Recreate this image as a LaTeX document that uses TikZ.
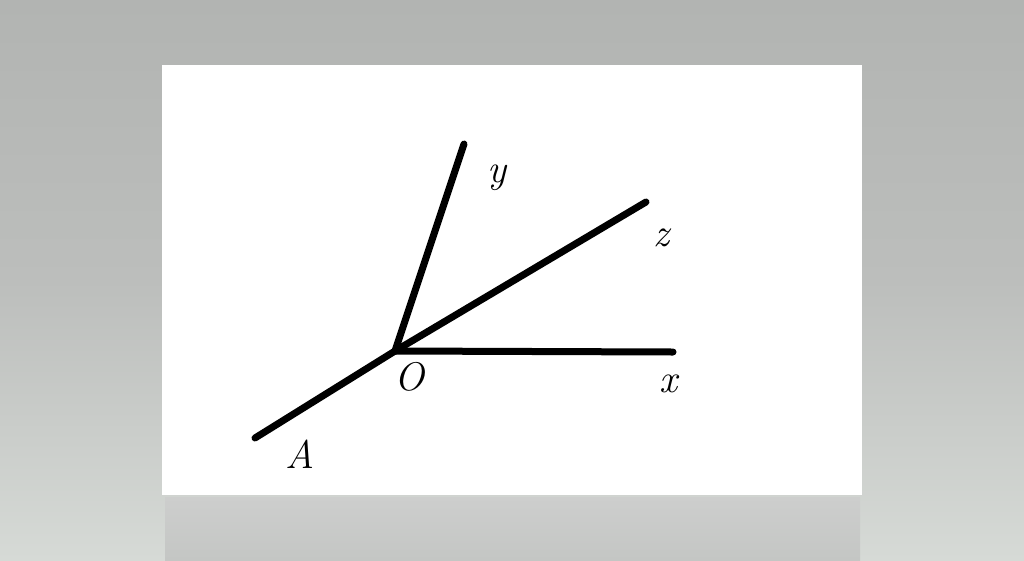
\documentclass[tikz,border=0pt]{standalone}
\definecolor{bgtop}{RGB}{178,180,178}
\definecolor{bgmid}{RGB}{188,190,188}
\definecolor{bgbot}{RGB}{214,218,214}
\definecolor{refltop}{RGB}{205,206,205}
\definecolor{reflbot}{RGB}{196,198,196}
\begin{document}
\begin{tikzpicture}[x=1pt,y=-1pt,
  axis/.style={line width=7pt,line cap=round,black},
  lab/.style={font=\fontsize{40}{46}\selectfont\itshape,inner sep=0pt}]
\useasboundingbox (0,0) rectangle (1024,560);
\shade[top color=bgtop,bottom color=bgbot,middle color=bgmid] (0,0) rectangle (1024,560);
\shade[top color=refltop,bottom color=reflbot] (165,497) rectangle (860,560);
\fill[white] (162,65) rectangle (862,495);
\coordinate (O) at (395,351);
\coordinate (Y) at (464,144);
\coordinate (Z) at (646,202);
\coordinate (X) at (673,352);
\coordinate (A) at (255,438);
\draw[axis] (O) -- (Y);
\draw[axis] (O) -- (Z);
\draw[axis] (O) -- (X);
\draw[axis] (O) -- (A);
\node[lab] (ly) at (497,178) {y};
\node[lab] (lz) at (661,238) {z};
\node[lab] (lx) at (668,384) {x};
\node[lab] (lo) at (409,377) {O};
\node[lab] (la) at (300,454) {A};
\end{tikzpicture}
\end{document}
